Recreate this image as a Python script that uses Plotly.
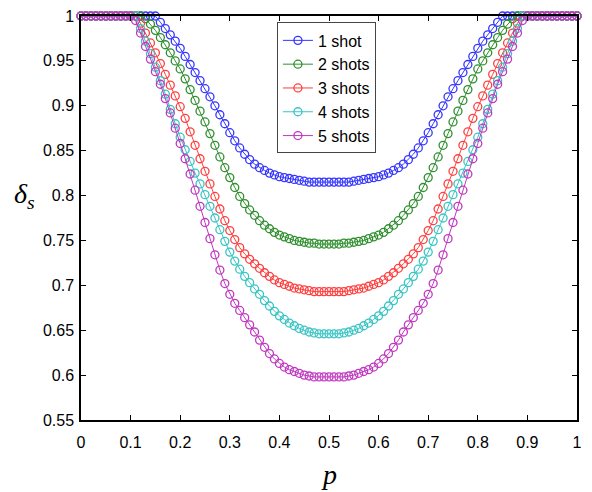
import plotly.graph_objects as go

p = [0.00,0.01,0.02,0.03,0.04,0.05,0.06,0.07,0.08,0.09,
     0.10,0.11,0.12,0.13,0.14,0.15,0.16,0.17,0.18,0.19,
     0.20,0.21,0.22,0.23,0.24,0.25,0.26,0.27,0.28,0.29,
     0.30,0.31,0.32,0.33,0.34,0.35,0.36,0.37,0.38,0.39,
     0.40,0.41,0.42,0.43,0.44,0.45,0.46,0.47,0.48,0.49,
     0.50,0.51,0.52,0.53,0.54,0.55,0.56,0.57,0.58,0.59,
     0.60,0.61,0.62,0.63,0.64,0.65,0.66,0.67,0.68,0.69,
     0.70,0.71,0.72,0.73,0.74,0.75,0.76,0.77,0.78,0.79,
     0.80,0.81,0.82,0.83,0.84,0.85,0.86,0.87,0.88,0.89,
     0.90,0.91,0.92,0.93,0.94,0.95,0.96,0.97,0.98,0.99,1.00]

shot1 = [1,1,1,1,1,1,1,1,1,1,1,1,1,1,1,
         1.0,0.993,0.986,0.979,0.972,0.964,0.955,0.946,0.937,0.928,0.919,0.910,0.900,0.890,0.880,
         0.870,0.861,0.853,0.846,0.840,0.835,0.831,0.828,0.825,0.823,0.821,0.820,0.819,0.818,0.817,
         0.816,0.815,0.815,0.815,0.815,0.815,
         0.815,0.815,0.815,0.815,0.816,0.817,0.818,0.819,0.820,0.821,0.823,0.825,0.828,0.831,0.835,
         0.840,0.846,0.853,0.861,0.870,0.880,0.890,0.900,0.910,0.919,0.928,0.937,0.946,0.955,0.964,
         0.972,0.979,0.986,0.993,1.0,
         1,1,1,1,1,1,1,1,1,1,1,1,1,1,1]

shot2 = [1,1,1,1,1,1,1,1,1,1,1,1,1,
         0.997,0.991,0.984,0.976,0.968,0.959,0.950,0.941,0.930,0.918,0.906,0.894,0.882,0.869,0.856,
         0.843,0.831,0.820,0.809,0.799,0.791,0.784,0.778,0.772,0.767,0.763,0.759,0.756,0.754,0.752,
         0.750,0.749,0.748,0.747,0.747,0.746,0.746,0.746,
         0.746,0.746,0.747,0.747,0.748,0.749,0.750,0.752,0.754,0.756,0.759,0.763,0.767,0.772,0.778,
         0.784,0.791,0.799,0.809,0.820,0.831,0.843,0.856,0.869,0.882,0.894,0.906,0.918,0.930,0.941,
         0.950,0.959,0.968,0.976,0.984,0.991,0.997,
         1,1,1,1,1,1,1,1,1,1,1,1,1]

shot3 = [1,1,1,1,1,1,1,1,1,1,1,1,
         0.992,0.981,0.970,0.959,0.947,0.935,0.923,0.911,0.899,0.886,0.871,0.856,0.841,0.827,0.813,
         0.799,0.785,0.772,0.761,0.751,0.742,0.735,0.729,0.724,0.719,0.714,0.710,0.706,0.703,0.701,
         0.699,0.697,0.696,0.695,0.694,0.693,0.693,0.693,0.693,
         0.693,0.693,0.693,0.694,0.695,0.696,0.697,0.699,0.701,0.703,0.706,0.710,0.714,0.719,0.724,
         0.729,0.735,0.742,0.751,0.761,0.772,0.785,0.799,0.813,0.827,0.841,0.856,0.871,0.886,0.899,
         0.911,0.923,0.935,0.947,0.959,0.970,0.981,0.992,
         1,1,1,1,1,1,1,1,1,1,1,1]

shot4 = [1,1,1,1,1,1,1,1,1,1,1,1,
         0.986,0.972,0.958,0.943,0.928,0.913,0.896,0.880,0.865,0.851,0.838,0.825,0.813,0.801,0.788,
         0.775,0.762,0.749,0.737,0.727,0.718,0.710,0.703,0.696,0.690,0.683,0.677,0.671,0.666,0.662,
         0.658,0.655,0.652,0.650,0.648,0.647,0.646,0.646,0.646,
         0.646,0.646,0.647,0.648,0.650,0.652,0.655,0.658,0.662,0.666,0.671,0.677,0.683,0.690,0.696,
         0.703,0.710,0.718,0.727,0.737,0.749,0.762,0.775,0.788,0.801,0.813,0.825,0.838,0.851,0.865,
         0.880,0.896,0.913,0.928,0.943,0.958,0.972,0.986,
         1,1,1,1,1,1,1,1,1,1,1,1]

shot5 = [1,1,1,1,1,1,1,1,1,1,1,
         0.995,0.981,0.966,0.952,0.938,0.924,0.908,0.892,0.875,0.858,0.841,0.824,0.806,0.788,0.770,
         0.752,0.734,0.717,0.702,0.690,0.680,0.672,0.664,0.656,0.648,0.639,0.631,0.624,0.618,0.613,
         0.609,0.606,0.604,0.602,0.600,0.599,0.598,0.598,0.598,0.598,
         0.598,0.598,0.598,0.599,0.600,0.602,0.604,0.606,0.609,0.613,0.618,0.624,0.631,0.639,0.648,
         0.656,0.664,0.672,0.680,0.690,0.702,0.717,0.734,0.752,0.770,0.788,0.806,0.824,0.841,0.858,
         0.875,0.892,0.908,0.924,0.938,0.952,0.966,0.981,0.995,
         1,1,1,1,1,1,1,1,1,1,1]

series_names = ["1 shot", "2 shots", "3 shots", "4 shots", "5 shots"]
series_values = [shot1, shot2, shot3, shot4, shot5]
series_colors = ["#3636ff", "#2f8f2f", "#ff3f3f", "#38c4c4", "#c038c0"]

x_ticks = [0, 0.1, 0.2, 0.3, 0.4, 0.5, 0.6, 0.7, 0.8, 0.9, 1]
x_tick_labels = ["0", "0.1", "0.2", "0.3", "0.4", "0.5", "0.6", "0.7", "0.8", "0.9", "1"]
y_ticks = [0.55, 0.6, 0.65, 0.7, 0.75, 0.8, 0.85, 0.9, 0.95, 1]
y_tick_labels = ["0.55", "0.6", "0.65", "0.7", "0.75", "0.8", "0.85", "0.9", "0.95", "1"]

fig = go.Figure()
for name, vals, col in zip(series_names, series_values, series_colors):
    assert len(vals) == len(p), (name, len(vals))
    fig.add_trace(go.Scatter(
        x=p, y=vals, name=name, mode="lines+markers", cliponaxis=False,
        line=dict(color=col, width=1),
        marker=dict(symbol="circle-open", size=8, color=col, line=dict(width=1.3, color=col)),
    ))

axis_common = dict(
    showline=True, linecolor="black", linewidth=1.5, mirror="ticks",
    ticks="inside", ticklen=5, tickcolor="black", tickwidth=1,
    showgrid=False, zeroline=False, automargin=False, ticklabeloverflow="allow",
    tickfont=dict(family="Liberation Sans, Arial, sans-serif", size=16, color="black"),
)

# page body adds an 8px offset; margins compensate so the axes land where the reference has them
fig.update_layout(
    width=584, height=484,
    margin=dict(l=73, r=15, t=8, b=72, autoexpand=False),
    paper_bgcolor="white", plot_bgcolor="white",
    showlegend=True,
    legend=dict(
        x=0.395, y=0.984, xanchor="left", yanchor="top",
        bordercolor="#444", borderwidth=1, bgcolor="white",
        font=dict(family="Liberation Sans, Arial, sans-serif", size=16, color="black"),
        itemwidth=30,
    ),
    xaxis=dict(range=[0, 1], tickvals=x_ticks, ticktext=x_tick_labels,
               ticklabelstandoff=7, **axis_common),
    yaxis=dict(range=[0.55, 1], tickvals=y_ticks, ticktext=y_tick_labels,
               ticklabelstandoff=2, **axis_common),
    annotations=[
        dict(text="<i>δ</i><sub><i>s</i></sub>", xref="paper", yref="paper",
             x=-0.113, y=0.556, xanchor="center", yanchor="middle",
             showarrow=False,
             font=dict(family="Liberation Serif, DejaVu Serif, serif", size=28, color="black")),
        dict(text="<i>p</i>", xref="paper", yref="paper",
             x=0.5, y=-0.136, xanchor="center", yanchor="middle", showarrow=False,
             font=dict(family="Liberation Serif, DejaVu Serif, serif", size=28, color="black")),
    ],
)

fig.write_html("out.html")
